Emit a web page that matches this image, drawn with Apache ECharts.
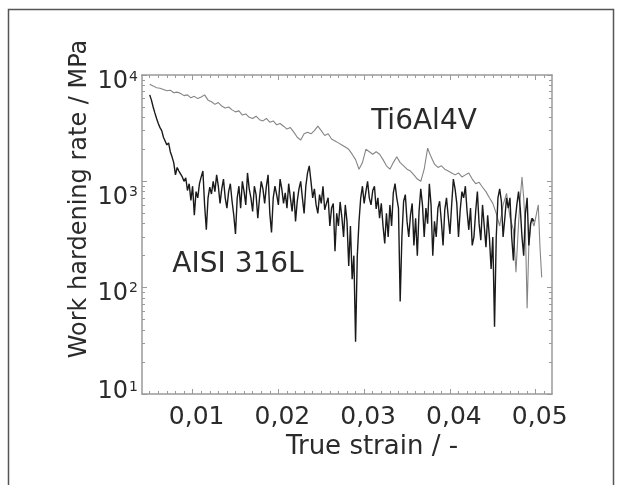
<!DOCTYPE html>
<html>
<head>
<meta charset="utf-8">
<script src="https://cdn.jsdelivr.net/npm/echarts@6/dist/echarts.min.js"></script>
<style>
html,body{margin:0;padding:0;background:#fff;}
#c{width:622px;height:485px;}
</style>
</head>
<body>
<div id="c"></div>
<script>
// ---- data ----
const aisiStrain = [0.0050,0.0052,0.0054,0.0056,0.0058,0.0060,0.0062,0.0064,0.0066,0.0068,0.0070,0.0072,0.0074,0.0076,0.0078,0.0080,0.0082,0.0084,0.0086,0.0088,0.0090,0.0092,0.0094,0.0096,0.0098,0.0100,0.0102,0.0104,0.0106,0.0108,0.0110,0.0112,0.0114,0.0116,0.0118,0.0120,0.0122,0.0124,0.0126,0.0128,0.0130,0.0132,0.0134,0.0136,0.0138,0.0140,0.0142,0.0144,0.0146,0.0148,0.0150,0.0152,0.0154,0.0156,0.0158,0.0160,0.0162,0.0164,0.0166,0.0168,0.0170,0.0172,0.0174,0.0176,0.0178,0.0180,0.0182,0.0184,0.0186,0.0188,0.0190,0.0192,0.0194,0.0196,0.0198,0.0200,0.0202,0.0204,0.0206,0.0208,0.0210,0.0212,0.0214,0.0216,0.0218,0.0220,0.0222,0.0224,0.0226,0.0228,0.0230,0.0232,0.0234,0.0236,0.0238,0.0240,0.0242,0.0244,0.0246,0.0248,0.0250,0.0252,0.0254,0.0256,0.0258,0.0260,0.0262,0.0264,0.0266,0.0268,0.0270,0.0272,0.0274,0.0276,0.0278,0.0280,0.0282,0.0284,0.0286,0.0288,0.0290,0.0292,0.0294,0.0296,0.0298,0.0300,0.0302,0.0304,0.0306,0.0308,0.0310,0.0312,0.0314,0.0316,0.0318,0.0320,0.0322,0.0324,0.0326,0.0328,0.0330,0.0332,0.0334,0.0336,0.0338,0.0340,0.0342,0.0344,0.0346,0.0348,0.0350,0.0352,0.0354,0.0356,0.0358,0.0360,0.0362,0.0364,0.0366,0.0368,0.0370,0.0372,0.0374,0.0376,0.0378,0.0380,0.0382,0.0384,0.0386,0.0388,0.0390,0.0392,0.0394,0.0396,0.0398,0.0400,0.0402,0.0404,0.0406,0.0408,0.0410,0.0412,0.0414,0.0416,0.0418,0.0420,0.0422,0.0424,0.0426,0.0428,0.0430,0.0432,0.0434,0.0436,0.0438,0.0440,0.0442,0.0444,0.0446,0.0448,0.0450,0.0452,0.0454,0.0456,0.0458,0.0460,0.0462,0.0464,0.0466,0.0468,0.0470,0.0472,0.0474,0.0476,0.0478,0.0480,0.0482,0.0484,0.0486,0.0488,0.0490,0.0492,0.0494,0.0496,0.0498];
const aisiRate = [6500,5800,5000,4400,3900,3500,3200,3000,2600,2500,2200,2300,1900,1700,1500,1150,1350,1250,1300,1100,1000,1080,820,950,660,900,480,800,700,950,1100,1250,600,350,700,880,760,1000,800,1150,900,620,850,1050,700,560,800,950,650,480,320,700,900,560,1000,800,600,1200,850,700,520,900,750,450,700,1000,850,620,900,1150,500,330,700,900,750,600,1050,850,620,780,560,950,700,520,800,420,650,850,1000,700,500,900,1200,1400,1000,700,850,600,500,750,620,900,540,620,700,380,560,620,220,500,380,640,460,300,600,420,160,380,120,200,31,200,420,700,900,620,800,1000,700,600,820,900,550,700,450,620,380,260,500,300,600,380,780,950,700,560,74,300,650,750,420,300,480,620,250,450,200,520,850,600,300,560,400,950,600,200,420,300,560,650,420,250,540,700,470,320,600,1050,850,620,300,540,800,700,900,520,350,560,250,300,520,800,400,280,600,380,240,480,300,150,300,43,300,700,850,650,300,450,700,560,700,300,180,420,600,800,560,300,200,500,700,250,400,450,420,350];
const tiStrain = [0.0050,0.0054,0.0058,0.0062,0.0066,0.0070,0.0074,0.0078,0.0082,0.0086,0.0090,0.0094,0.0098,0.0102,0.0106,0.0110,0.0114,0.0118,0.0122,0.0126,0.0130,0.0134,0.0138,0.0142,0.0146,0.0150,0.0154,0.0158,0.0162,0.0166,0.0170,0.0174,0.0178,0.0182,0.0186,0.0190,0.0194,0.0198,0.0202,0.0206,0.0210,0.0214,0.0218,0.0222,0.0226,0.0230,0.0234,0.0238,0.0242,0.0246,0.0250,0.0254,0.0258,0.0262,0.0266,0.0270,0.0274,0.0278,0.0282,0.0286,0.0290,0.0294,0.0298,0.0302,0.0306,0.0310,0.0314,0.0318,0.0322,0.0326,0.0330,0.0334,0.0338,0.0342,0.0346,0.0350,0.0354,0.0358,0.0362,0.0366,0.0370,0.0374,0.0378,0.0382,0.0386,0.0390,0.0394,0.0398,0.0402,0.0406,0.0410,0.0414,0.0418,0.0422,0.0426,0.0430,0.0434,0.0438,0.0442,0.0446,0.0450,0.0454,0.0458,0.0462,0.0466,0.0470,0.0474,0.0477,0.0480,0.0482,0.0484,0.0486,0.0488,0.0490,0.0492,0.0495,0.0498,0.0501,0.0503,0.0505,0.0507];
const tiRate = [8200,7900,7600,7500,7300,7100,7200,6800,6900,6700,6400,6500,6100,6300,6000,6200,6500,5800,5600,5300,5500,5100,4900,5000,4700,4500,4600,4200,4300,4000,3900,4100,3800,3700,3900,3600,3700,3400,3500,3300,3100,3200,2900,2600,2450,2800,2900,2800,3000,3300,3000,2700,2800,2500,2400,2300,2200,2100,2000,1800,1600,1300,1500,2000,1900,1800,1900,1800,1600,1400,1300,1500,1700,1500,1400,1300,1250,1150,1050,1000,1300,2050,1700,1450,1350,1400,1300,1250,1200,1150,1200,1100,1150,1200,1050,950,980,880,800,700,620,500,380,600,770,460,350,140,400,700,1100,700,350,64,250,450,380,500,600,240,125];
const xMajor = [0.01,0.02,0.03,0.04,0.05];
const xTickLabels = ['0,01','0,02','0,03','0,04','0,05'];
const yMajor = [10,100,1000,10000];
const yTickExp = ['1','2','3','4'];

// ---- helpers (tick positions only) ----
const xMinor = [];
for (let i = 5; i <= 51; i++) { if (i % 10 !== 0) xMinor.push(i / 1000); }
const yMinor = [];
[10,100,1000].forEach(b => { for (let k = 2; k <= 9; k++) yMinor.push(k * b); });

const aisiData = aisiStrain.map((s, i) => [s, aisiRate[i]]);
const tiData = tiStrain.map((s, i) => [s, tiRate[i]]);

const FONT = 'DejaVu Sans';
const TXT = '#2b2b2b';
const FRAME = '#9a9a9a';
const XMIN = 0.0041, XMAX = 0.0519;

function xAx(pos, ticks, len, show) {
  return {
    type: 'value', position: pos, min: XMIN, max: XMAX,
    axisLine: { show: show, lineStyle: { color: FRAME, width: 1.5 } },
    axisTick: { show: true, inside: true, length: len, customValues: ticks, lineStyle: { color: FRAME, width: 1 } },
    axisLabel: { show: false }, splitLine: { show: false }
  };
}
function yAx(pos, ticks, len, show) {
  return {
    type: 'log', logBase: 10, position: pos, min: 10, max: 10000,
    axisLine: { show: show, lineStyle: { color: FRAME, width: 1.5 } },
    axisTick: { show: !!ticks, inside: true, length: len, customValues: ticks || [], lineStyle: { color: FRAME, width: 1 } },
    axisLabel: { show: false }, splitLine: { show: false }
  };
}

const xAxes = [
  Object.assign(xAx('bottom', xMajor, 5, true), {
    axisLabel: {
      show: true, customValues: xMajor, margin: 11,
      formatter: v => xTickLabels[xMajor.findIndex(m => Math.abs(m - v) < 1e-9)],
      fontFamily: FONT, fontSize: 25, color: TXT, padding: [0, 0, 0, 8]
    }
  }),
  xAx('bottom', xMinor, 3, false),
  xAx('top', xMajor, 5, true),
  xAx('top', xMinor, 3, false)
];
// per-label vertical shift of the y tick labels (as placed in the original figure)
const yLabelShift = [-2, 6, 16, 7];
const richY = {
  b: { fontFamily: FONT, fontSize: 24, color: TXT },
  s: { fontFamily: FONT, fontSize: 14, color: TXT, verticalAlign: 'top', padding: [0, 0, 10, 1] }
};
const yAxes = [
  yAx('left', yMajor, 5, true),
  yAx('left', yMinor, 3, false),
  yAx('right', yMajor, 5, true),
  yAx('right', yMinor, 3, false)
];
yMajor.forEach((v, i) => {
  const d = yLabelShift[i];
  yAxes.push(Object.assign(yAx('left', null, 0, false), {
    axisLabel: {
      show: true, margin: 4, customValues: [v],
      padding: d >= 0 ? [2 * d, 0, 0, 0] : [0, 0, -2 * d, 0],
      formatter: () => '{b|10}{s|' + yTickExp[i] + '}',
      rich: richY
    }
  }));
});

const chart = echarts.init(document.getElementById('c'), null, { renderer: 'canvas' });
chart.setOption({
  backgroundColor: '#fff',
  animation: false,
  grid: { left: 142, top: 75, right: 70, bottom: 91, containLabel: false },
  xAxis: xAxes,
  yAxis: yAxes,
  series: [
    { name: 'Ti6Al4V', type: 'line', xAxisIndex: 0, yAxisIndex: 0, data: tiData, showSymbol: false, symbol: 'none',
      lineStyle: { color: '#858585', width: 1.1 }, z: 2 },
    { name: 'AISI 316L', type: 'line', xAxisIndex: 0, yAxisIndex: 0, data: aisiData, showSymbol: false, symbol: 'none',
      lineStyle: { color: '#1a1a1a', width: 1.4 }, z: 3 }
  ],
  graphic: [
    { type: 'rect', shape: { x: 8.5, y: 9.5, width: 605, height: 520 }, style: { fill: 'none', stroke: '#555', lineWidth: 1.5 }, silent: true },
    { type: 'text', x: 424, y: 122, style: { text: 'Ti6Al4V', font: '28px "DejaVu Sans"', fill: TXT, align: 'center', verticalAlign: 'middle' } },
    { type: 'text', x: 238, y: 265, style: { text: 'AISI 316L', font: '28px "DejaVu Sans"', fill: TXT, align: 'center', verticalAlign: 'middle' } },
    { type: 'text', x: 372, y: 447, style: { text: 'True strain / -', font: '26px "DejaVu Sans"', fill: TXT, align: 'center', verticalAlign: 'middle' } },
    { type: 'text', x: 80, y: 199, rotation: Math.PI / 2, style: { text: 'Work hardening rate / MPa', font: '24px "DejaVu Sans"', fill: TXT, align: 'center', verticalAlign: 'middle' } }
  ]
});
</script>
</body>
</html>
